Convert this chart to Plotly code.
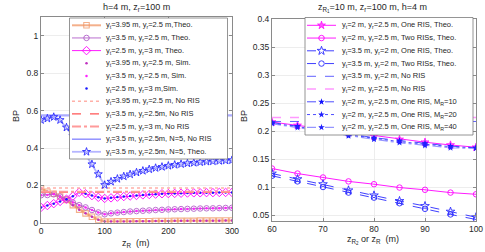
import plotly.graph_objects as go

# ---------------- data: left panel ----------------
zR = [0, 10, 20, 30, 40, 50, 60, 70, 80, 90, 100, 110, 120, 130, 140, 150,
      160, 170, 180, 190, 200, 210, 220, 230, 240, 250, 260, 270, 280, 290, 300]
theo_395 = [0.184, 0.166, 0.155, 0.140, 0.122, 0.094, 0.070, 0.050, 0.032, 0.016, 0.006,
            0.006, 0.007, 0.007, 0.007, 0.008, 0.008, 0.008, 0.009, 0.009, 0.009,
            0.010, 0.010, 0.010, 0.010, 0.011, 0.011, 0.011, 0.011, 0.012, 0.012]
theo_35 = [0.147, 0.148, 0.152, 0.140, 0.125, 0.108, 0.094, 0.082, 0.068, 0.055, 0.045,
           0.050, 0.054, 0.057, 0.060, 0.062, 0.064, 0.066, 0.068, 0.069, 0.071,
           0.072, 0.073, 0.074, 0.075, 0.076, 0.077, 0.077, 0.078, 0.079, 0.080]
theo_25 = [0.082, 0.092, 0.102, 0.114, 0.126, 0.142, 0.163, 0.155, 0.145, 0.136, 0.130,
           0.133, 0.137, 0.140, 0.143, 0.146, 0.149, 0.151, 0.153, 0.155, 0.156,
           0.157, 0.158, 0.159, 0.160, 0.160, 0.161, 0.161, 0.162, 0.162, 0.162]
sim_395 = theo_395
sim_35 = theo_35
sim_25 = theo_25
noris_395 = [0.186, 0.186]
noris_35 = [0.162, 0.162]
noris_25 = [0.166, 0.166]
noris_N5 = [0.575, 0.575]
noris_x = [0, 300]
theo_N5 = [0.550, 0.558, 0.566, 0.550, 0.510, 0.465, 0.420, 0.365, 0.313, 0.260, 0.202,
           0.220, 0.235, 0.248, 0.259, 0.269, 0.278, 0.286, 0.293, 0.299, 0.305,
           0.310, 0.314, 0.318, 0.321, 0.324, 0.327, 0.329, 0.331, 0.333, 0.335]

left_names = [
    "y<sub>t</sub>=3.95 m, y<sub>r</sub>=2.5 m,Theo.",
    "y<sub>t</sub>=3.5 m, y<sub>r</sub>=2.5 m, Theo.",
    "y<sub>t</sub>=2.5 m, y<sub>r</sub>=3 m, Theo.",
    "y<sub>t</sub>=3.95 m, y<sub>r</sub>=2.5 m, Sim.",
    "y<sub>t</sub>=3.5 m, y<sub>r</sub>=2.5 m, Sim.",
    "y<sub>t</sub>=2.5 m, y<sub>r</sub>=3 m,Sim.",
    "y<sub>t</sub>=3.95 m, y<sub>r</sub>=2.5 m, No RIS",
    "y<sub>t</sub>=3.5 m, y<sub>r</sub>=2.5m, No RIS",
    "y<sub>t</sub>=2.5 m, y<sub>r</sub>=3 m, No RIS",
    "y<sub>t</sub>=3.5 m, y<sub>r</sub>=2.5m, N=5, No RIS",
    "y<sub>t</sub>=3.5 m, y<sub>r</sub>=2.5m, N=5, Theo.",
]

# ---------------- data: right panel ----------------
zR2 = [60, 65, 70, 75, 80, 85, 90, 95, 100]
one_2_25 = [0.216, 0.210, 0.203, 0.197, 0.191, 0.185, 0.180, 0.175, 0.171]
two_2_25 = [0.133, 0.124, 0.117, 0.110, 0.105, 0.099, 0.095, 0.090, 0.087]
one_35_2 = [0.124, 0.114, 0.105, 0.094, 0.085, 0.075, 0.066, 0.056, 0.046]
two_35_2 = [0.120, 0.110, 0.100, 0.090, 0.081, 0.071, 0.061, 0.051, 0.042]
noris_35_2 = [0.217, 0.217]
noris_2_25 = [0.224, 0.224]
noris2_x = [60, 100]
mr10 = [0.215, 0.209, 0.202, 0.195, 0.188, 0.183, 0.178, 0.173, 0.170]
mr20 = [0.214, 0.208, 0.200, 0.193, 0.187, 0.181, 0.176, 0.172, 0.170]
mr40 = [0.213, 0.206, 0.198, 0.191, 0.185, 0.179, 0.174, 0.170, 0.169]

right_names = [
    "y<sub>t</sub>=2 m, y<sub>r</sub>=2.5 m, One RIS, Theo.",
    "y<sub>t</sub>=2 m, y<sub>r</sub>=2.5 m, Two RISs, Theo.",
    "y<sub>t</sub>=3.5 m, y<sub>r</sub>=2 m, One RIS, Theo.",
    "y<sub>t</sub>=3.5 m, y<sub>r</sub>=2 m, Two RISs, Theo.",
    "y<sub>t</sub>=3.5 m, y<sub>r</sub>=2 m, No RIS",
    "y<sub>t</sub>=2 m, y<sub>r</sub>=2.5 m, No RIS",
    "y<sub>t</sub>=2 m, y<sub>r</sub>=2.5 m, One RIS, M<sub>R</sub>=10",
    "y<sub>t</sub>=2 m, y<sub>r</sub>=2.5 m, One RIS, M<sub>R</sub>=20",
    "y<sub>t</sub>=2 m, y<sub>r</sub>=2.5 m, One RIS, M<sub>R</sub>=40",
]

# ---------------- styles ----------------
ORANGE = "rgba(240,150,100,0.75)"
PURPLE = "#b15fc8"
MAGENTA = "#ff00ff"
BLUE = "#2a2aff"

left_series = [
    (zR, theo_395, "lines+markers", dict(color=ORANGE, width=2), dict(symbol="square-open", size=5.5, color=ORANGE, line=dict(width=1.1, color=ORANGE))),
    (zR, theo_35, "lines+markers", dict(color=PURPLE, width=0.9), dict(symbol="circle-open", size=5.5, color=PURPLE, line=dict(width=0.9, color=PURPLE))),
    (zR, theo_25, "lines+markers", dict(color=MAGENTA, width=0.9), dict(symbol="diamond-open", size=6.5, color=MAGENTA, line=dict(width=0.9, color=MAGENTA))),
    (zR, sim_395, "markers", None, dict(symbol="circle", size=2.5, color="#c030c0")),
    (zR, sim_35, "markers", None, dict(symbol="circle", size=2.5, color="#ff22ff")),
    (zR, sim_25, "markers", None, dict(symbol="circle", size=2.5, color="#1a1aff")),
    (noris_x, noris_395, "lines", dict(color="#ffb0a8", width=1.4, dash="dot"), None),
    (noris_x, noris_35, "lines", dict(color="#ff5555", width=1.2, dash="dash"), None),
    (noris_x, noris_25, "lines", dict(color="#ff9a9a", width=2, dash="dashdot"), None),
    (noris_x, noris_N5, "lines", dict(color="rgba(90,90,255,0.5)", width=2.2), None),
    (zR, theo_N5, "lines+markers", dict(color="rgba(120,120,255,0.55)", width=1.8), dict(symbol="star-open", size=6, color=BLUE, line=dict(width=0.9, color=BLUE))),
]
left_leg_line_override = {9: dict(color="#4a4aff", width=0.9)}

right_series = [
    (zR2, one_2_25, "lines+markers", dict(color=MAGENTA, width=0.9), dict(symbol="star", size=6, color="#ff55ff", line=dict(width=0.7, color=MAGENTA))),
    (zR2, two_2_25, "lines+markers", dict(color=MAGENTA, width=0.9), dict(symbol="circle-open", size=5.5, color=MAGENTA, line=dict(width=0.9, color=MAGENTA))),
    (zR2, one_35_2, "lines+markers", dict(color=BLUE, width=0.9, dash="dash"), dict(symbol="star-open", size=6.5, color=BLUE, line=dict(width=0.9, color=BLUE))),
    (zR2, two_35_2, "lines+markers", dict(color=BLUE, width=0.9, dash="dash"), dict(symbol="circle-open", size=5.5, color=BLUE, line=dict(width=0.9, color=BLUE))),
    (noris2_x, noris_35_2, "lines", dict(color="#5050ff", width=0.9, dash="dash"), None),
    (noris2_x, noris_2_25, "lines", dict(color="#ff99ff", width=1.6, dash="dash"), None),
    (zR2, mr10, "lines+markers", dict(color="#3a3aff", width=0.9, dash="dash"), dict(symbol="star", size=5, color="#1010ff")),
    (zR2, mr20, "lines+markers", dict(color="#3a3aff", width=0.9, dash="dot"), dict(symbol="star", size=5, color="#2020ff")),
    (zR2, mr40, "lines+markers", dict(color="rgba(80,80,255,0.6)", width=1.2, dash="dashdot"), dict(symbol="star", size=5, color="#2020ff")),
]

fig = go.Figure()

def add_series(series, xa, ya):
    for x, y, mode, line, marker in series:
        kw = dict(x=x, y=y, mode=mode, xaxis=xa, yaxis=ya, showlegend=False,
                  hoverinfo="skip", cliponaxis=True)
        if line is not None:
            kw["line"] = line
        if marker is not None:
            kw["marker"] = marker
        fig.add_trace(go.Scatter(**kw))

add_series(left_series, "x", "y")
add_series(right_series, "x2", "y2")

# ---------------- hand-drawn legends (overlay pixel axis) ----------------
W, H = 485, 252
FONT = "Liberation Sans, Arial, sans-serif"
annotations = []

def draw_legend(series, names, box, line_x, text_x, y0, dy, overrides=None):
    bx0, by0, bx1, by1 = box
    fig.add_trace(go.Scatter(x=[bx0, bx1, bx1, bx0, bx0], y=[by0, by0, by1, by1, by0],
                             mode="lines", fill="toself", fillcolor="white",
                             line=dict(color="#7a7a7a", width=0.8),
                             xaxis="x3", yaxis="y3", showlegend=False, hoverinfo="skip"))
    for i, (s, name) in enumerate(zip(series, names)):
        _, _, mode, line, marker = s
        yy = y0 + i * dy
        if overrides and i in overrides:
            line = overrides[i]
        if line is not None:
            fig.add_trace(go.Scatter(x=[line_x[0], line_x[1]], y=[yy, yy], mode="lines",
                                     line=line, xaxis="x3", yaxis="y3",
                                     showlegend=False, hoverinfo="skip"))
        if marker is not None:
            fig.add_trace(go.Scatter(x=[(line_x[0] + line_x[1]) / 2], y=[yy], mode="markers",
                                     marker=marker, xaxis="x3", yaxis="y3",
                                     showlegend=False, hoverinfo="skip"))
        annotations.append(dict(x=text_x, y=yy, xref="x3", yref="y3", text=name,
                                showarrow=False, xanchor="left", yanchor="middle",
                                font=dict(size=7.5, color="#262626", family=FONT)))

draw_legend(left_series, left_names, (69.5, 18, 227.5, 159), (72, 101), 104, 25.3, 12.65,
            left_leg_line_override)
draw_legend(right_series, right_names, (305, 17.5, 473, 135), (307, 336), 340, 25.3, 12.75)

# ---------------- titles ----------------
def txt(x, y, s, size=9, angle=0):
    annotations.append(dict(x=x, y=y, xref="x3", yref="y3", text=s, showarrow=False,
                            xanchor="center", yanchor="middle", textangle=angle,
                            font=dict(size=size, color="#262626", family=FONT)))

txt(136, 7.5, "h=4 m, z<sub>r</sub>=100 m", 9)
txt(372, 7.5, "z<sub>R<sub>1</sub></sub>=10 m, z<sub>r</sub>=100 m, h=4 m", 9)
txt(136, 243, "z<sub>R</sub>  (m)", 9)
txt(373, 240, "z<sub>R<sub>2</sub></sub> or z<sub>R</sub>  (m)", 9)
txt(16, 116, "BP", 9, -90)
txt(244, 116, "BP", 9, -90)

axcommon = dict(showline=True, mirror="ticks", linecolor="#8a8a8a", linewidth=1,
                ticks="inside", ticklen=3, tickcolor="#8a8a8a", automargin=False,
                showgrid=True, gridcolor="#e8e8e8", gridwidth=0.8, zeroline=False,
                tickfont=dict(size=8.5, color="#262626", family=FONT))

fig.update_layout(
    template="none",
    width=W, height=H,
    margin=dict(l=0, r=0, t=0, b=0, pad=0),
    paper_bgcolor="white", plot_bgcolor="rgba(0,0,0,0)",
    showlegend=False,
    hovermode=False,
    xaxis=dict(domain=[41 / W, 232 / W], range=[0, 300], tickvals=[0, 100, 200, 300],
               anchor="y", **axcommon),
    yaxis=dict(domain=[1 - 222.7 / H, 1 - 17.3 / H], range=[0, 1.1],
               tickvals=[0, 0.2, 0.4, 0.6, 0.8, 1], ticktext=["0", "0.2", "0.4", "0.6", "0.8", "1"],
               anchor="x", **axcommon),
    xaxis2=dict(domain=[272 / W, 476 / W], range=[60, 100], tickvals=[60, 70, 80, 90, 100],
                anchor="y2", **axcommon),
    yaxis2=dict(domain=[1 - 220.6 / H, 1 - 19 / H], range=[0.04, 0.4],
                tickvals=[0.05, 0.1, 0.15, 0.2, 0.25, 0.3, 0.35, 0.4],
                ticktext=["0.05", "0.1", "0.15", "0.2", "0.25", "0.3", "0.35", "0.4"],
                anchor="x2", **axcommon),
    xaxis3=dict(domain=[0, 1], range=[0, W], visible=False, anchor="y3", fixedrange=True,
                automargin=False),
    yaxis3=dict(domain=[0, 1], range=[H, 0], visible=False, anchor="x3", fixedrange=True,
                automargin=False),
    annotations=annotations,
    font=dict(family=FONT),
)

fig.write_html("out.html", config={"displayModeBar": False, "staticPlot": True},
               post_script="document.body.style.margin='0';document.body.style.padding='0';")
